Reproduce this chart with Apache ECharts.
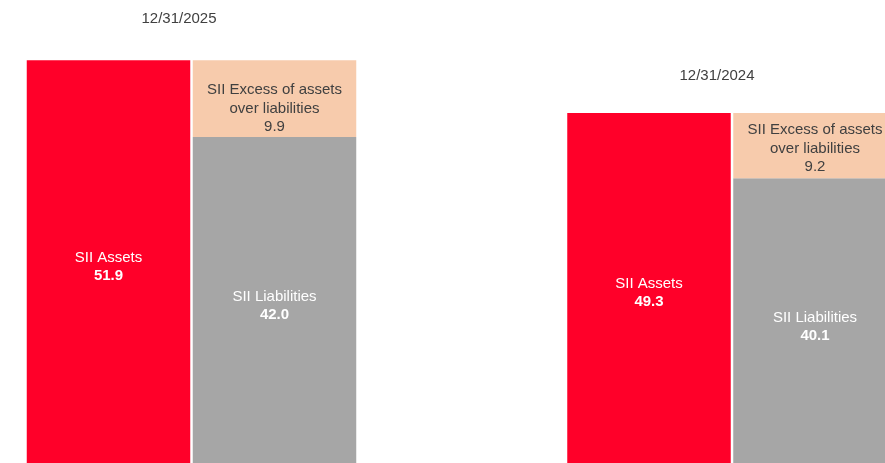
<!DOCTYPE html>
<html>
<head>
<meta charset="utf-8">
<script src="https://cdn.jsdelivr.net/npm/echarts@6/dist/echarts.min.js"></script>
<style>
html,body{margin:0;padding:0;background:#fff;}
#c{width:885px;height:463px;}
</style>
</head>
<body>
<div id="c"></div>
<script>
// Data
var periods = ['12/31/2025', '12/31/2024'];
var categories = ['Assets', 'Liabilities'];
var assetsName = 'SII Assets';
var liabilitiesName = 'SII Liabilities';
var excessName = 'SII Excess of assets\nover liabilities';
var assets = [51.9, 49.3];
var liabilities = [42.0, 40.1];
var excess = [9.9, 9.2];

var FONT = '"Liberation Sans", Arial, sans-serif';
var RED = '#FF0029', GREY = '#A6A6A6', PEACH = '#F7CBAC', TXT = '#404040';

// layout per panel (grid spans bar centre to bar centre; boundaryGap false)
var panels = [
  {left: 108.5, top: 60.3, height: 409, titleX: 179, titleY: 11, excessOffset: [0, 10]},
  {left: 649, top: 113, height: 357.4, titleX: 717, titleY: 68, excessOffset: [0, 3]}
];

var option = {
  animation: false,
  backgroundColor: '#fff',
  title: [], grid: [], xAxis: [], yAxis: [], series: []
};

function fmtLight(p){ return '{n|' + p.seriesName + '}\n{v|' + p.value.toFixed(1) + '}'; }

periods.forEach(function(per, i){
  var P = panels[i];
  option.title.push({
    text: per, left: P.titleX, top: P.titleY, textAlign: 'center', padding: 0,
    textStyle: {fontFamily: FONT, fontSize: 15, fontWeight: 'normal', color: TXT}
  });
  option.grid.push({left: P.left, top: P.top, width: 166, height: P.height, containLabel: false});
  option.xAxis.push({type: 'category', gridIndex: i, data: categories, show: false, boundaryGap: false});
  option.yAxis.push({type: 'value', gridIndex: i, min: 0, max: assets[i], show: false});
  var richWhite = {
    n: {fontFamily: FONT, fontSize: 15, color: '#fff', lineHeight: 18},
    v: {fontFamily: FONT, fontSize: 15, color: '#fff', fontWeight: 'bold', lineHeight: 18}
  };
  var richDark = {
    n: {fontFamily: FONT, fontSize: 15, color: TXT, lineHeight: 18.5},
    v: {fontFamily: FONT, fontSize: 15, color: TXT, lineHeight: 18.5}
  };
  var common = {type: 'bar', xAxisIndex: i, yAxisIndex: i, stack: 's' + i, barWidth: 163.5, clip: false};
  option.series.push(Object.assign({}, common, {
    name: assetsName, data: [assets[i], '-'],
    itemStyle: {color: RED},
    label: {show: true, position: 'inside', offset: [0, 5], formatter: fmtLight, rich: richWhite}
  }));
  option.series.push(Object.assign({}, common, {
    name: liabilitiesName, data: ['-', liabilities[i]],
    itemStyle: {color: GREY},
    label: {show: true, position: 'inside', offset: [0, 6], formatter: fmtLight, rich: richWhite}
  }));
  option.series.push(Object.assign({}, common, {
    name: excessName, data: ['-', excess[i]],
    itemStyle: {color: PEACH},
    label: {show: true, position: 'inside', offset: P.excessOffset, formatter: function(p){
      return p.seriesName.split('\n').map(function(s){return '{n|' + s + '}';}).join('\n') + '\n{v|' + p.value.toFixed(1) + '}';
    }, rich: richDark}
  }));
});

var chart = echarts.init(document.getElementById('c'), null, {renderer: 'canvas'});
chart.setOption(option);
</script>
</body>
</html>
